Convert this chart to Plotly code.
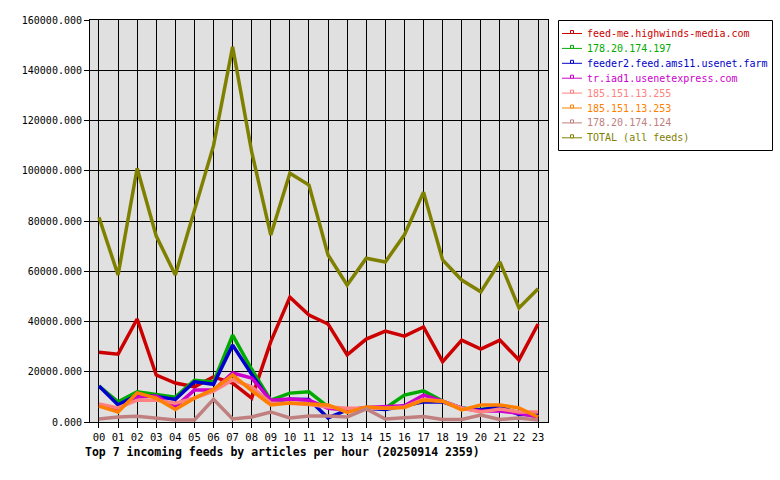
import plotly.graph_objects as go

hours = [f"{h:02d}" for h in range(24)]

names = [
    "feed-me.highwinds-media.com",
    "178.20.174.197",
    "feeder2.feed.ams11.usenet.farm",
    "tr.iad1.usenetexpress.com",
    "185.151.13.255",
    "185.151.13.253",
    "178.20.174.124",
    "TOTAL (all feeds)",
]
colors = ["#CC0000", "#00AA00", "#0000CC", "#CC00CC", "#FF8080", "#FF8000", "#C08080", "#808000"]

feed_me = [27800, 27000, 41000, 18700, 15500, 14000, 18000, 15500, 9500, 32000, 49700, 42600,
           39000, 26700, 33000, 36200, 34200, 37800, 24000, 32600, 29000, 32600, 24700, 39000]
ip_197 = [14300, 8000, 12000, 10800, 9900, 16600, 15900, 34600, 21000, 8700, 11500, 12000,
          6000, 5000, 5500, 5500, 10700, 12400, 8300, 5500, 5000, 6000, 3500, 2500]
feeder2 = [14300, 6800, 10700, 10200, 9000, 16000, 15000, 30600, 19000, 8000, 9100, 9000,
           1600, 4800, 5500, 5000, 6500, 8000, 8000, 5500, 4800, 6000, 3000, 3000]
tr_iad1 = [6500, 5000, 10000, 10300, 6000, 12700, 12700, 19500, 17500, 8700, 9200, 8700,
           5500, 4800, 5800, 6000, 6500, 10700, 8300, 5500, 4400, 4400, 3500, 2000]
ip_255 = [7200, 5600, 8700, 8700, 7500, 9500, 12300, 16700, 14000, 7500, 7500, 7000,
          6000, 5500, 5500, 5500, 6000, 9000, 8300, 5500, 4000, 5200, 4000, 4000]
ip_253 = [6300, 4000, 11600, 9500, 5000, 9500, 13000, 18700, 12500, 6800, 7600, 7300,
          6800, 3800, 6000, 5500, 5800, 8700, 8300, 4800, 6800, 6800, 5600, 2000]
ip_124 = [1200, 2000, 2300, 1700, 800, 800, 9000, 1200, 2000, 4000, 1600, 2400,
          2400, 2000, 5200, 1200, 1800, 2200, 1000, 1000, 2800, 1000, 1600, 800]
total = [81500, 58500, 101000, 74000, 58500, 84000, 110000, 149300, 107500, 74400, 99000, 94300,
         66500, 54500, 65200, 63700, 74500, 91500, 64500, 56500, 51800, 63700, 45400, 53000]

series = [feed_me, ip_197, feeder2, tr_iad1, ip_255, ip_253, ip_124, total]

W, H = 780, 480
ML, MR, MT, MB = 90, 232, 20, 58
PW, PH = W - ML - MR, H - MT - MB


def px(xp):
    return (xp - ML) / PW


def py(yp):
    return (H - MB - yp) / PH


fig = go.Figure()
for name, col, vals in zip(names, colors, series):
    fig.add_trace(go.Scatter(
        x=list(range(24)), y=vals, mode="lines", name=name, showlegend=False,
        line=dict(color=col, width=3.5), hoverinfo="skip"))

mono = "DejaVu Sans Mono"
shapes = []
annotations = []

# legend box
shapes.append(dict(type="rect", xref="paper", yref="paper",
                   x0=px(558.5), x1=px(772.5), y0=py(150.5), y1=py(20.5),
                   line=dict(color="black", width=1), fillcolor="white", layer="above"))
for i, (name, col) in enumerate(zip(names, colors)):
    yc = 33.5 + i * 14.9
    shapes.append(dict(type="line", xref="paper", yref="paper",
                       x0=px(562), x1=px(582), y0=py(yc), y1=py(yc),
                       line=dict(color=col, width=1), layer="above"))
    shapes.append(dict(type="rect", xref="paper", yref="paper",
                       x0=px(570.5), x1=px(573.5), y0=py(yc), y1=py(yc - 3),
                       line=dict(color=col, width=1), fillcolor="white", layer="above"))
    annotations.append(dict(text=name, xref="paper", yref="paper",
                            x=px(585), y=py(yc), xanchor="left", yanchor="middle",
                            showarrow=False, font=dict(family=mono, size=10, color=col)))

annotations.append(dict(
    text="<b>Top 7 incoming feeds by articles per hour (20250914 2359)</b>",
    xref="paper", yref="paper", x=px(83), y=py(452), xanchor="left", yanchor="middle",
    showarrow=False, font=dict(family=mono, size=11.5, color="black")))

fig.update_layout(
    width=W, height=H,
    margin=dict(l=ML, r=MR, t=MT, b=MB, autoexpand=False),
    paper_bgcolor="white", plot_bgcolor="#E0E0E0",
    font=dict(family=mono, size=10, color="black"),
    showlegend=False,
    shapes=shapes,
    annotations=annotations,
)
fig.update_xaxes(
    range=[-0.47, 23.52], tickmode="array", tickvals=list(range(24)), ticktext=hours,
    showgrid=True, gridcolor="black", gridwidth=1,
    showline=True, linecolor="black", linewidth=1, mirror=True,
    ticks="outside", ticklen=5, tickcolor="black", zeroline=False,
    tickfont=dict(family=mono, size=10.5))
fig.update_yaxes(
    range=[0, 160000], dtick=20000, tickformat=".3f",
    showgrid=True, gridcolor="black", gridwidth=1,
    showline=True, linecolor="black", linewidth=1, mirror=True,
    ticks="outside", ticklen=5, tickcolor="black", zeroline=False,
    tickfont=dict(family=mono, size=10))

fig.write_html("out.html")
